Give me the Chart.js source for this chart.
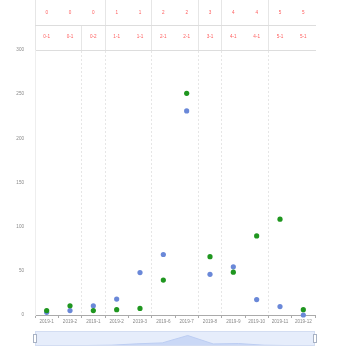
<!DOCTYPE html>
<html><head><meta charset="utf-8">
<script src="https://cdn.jsdelivr.net/npm/chart.js@4.4.0/dist/chart.umd.min.js"></script>
<style>
html,body{margin:0;padding:0;background:#fff}
#wrap{position:relative;width:350px;height:350px;overflow:hidden}
#main{position:absolute;left:0;top:0}
#zoom{position:absolute;left:0;top:326px}
</style>
</head><body>
<div id="wrap"><canvas id="main" width="350" height="350"></canvas><canvas id="zoom" width="350" height="24"></canvas></div>
<script>
const categories = ['2019-1','2019-2','2019-1','2019-2','2019-3','2019-6','2019-7','2019-8','2019-9','2019-10','2019-11','2019-12'];
const groupTop = ['0','0','0','1','1','2','2','3','4','4','5','5'];
const groupSub = ['0-1','0-1','0-2','1-1','1-1','2-1','2-1','3-1','4-1','4-1','5-1','5-1'];
const blueValues = [3, 5, 10.5, 18, 48, 68.5, 231, 46, 54.5, 17.5, 9.5, 0];
const greenValues = [5, 10.5, 5, 6, 7.5, 39.5, 251, 66, 48.5, 89.5, 108.5, 6];
const yTicks = [0, 50, 100, 150, 200, 250, 300];

function boundaries(groups){
  const b = [0];
  for (let i = 1; i < groups.length; i++) if (groups[i] !== groups[i-1]) b.push(i);
  b.push(groups.length);
  return b;
}
const subB = boundaries(groupSub);
const topB = boundaries(groupTop);
const N = categories.length;

Chart.defaults.font.family = '"Liberation Sans", Arial, sans-serif';
const FS = 4.6;
const T = 'rgba(0,0,0,0)';

new Chart(document.getElementById('main'), {
  type: 'line',
  data: {
    labels: categories,
    datasets: [
      { label: 'B', data: greenValues, showLine: false, pointRadius: 2.6, pointHoverRadius: 2.6,
        pointBackgroundColor: '#1f961f', pointBorderColor: '#1f961f', pointBorderWidth: 0, clip: false },
      { label: 'A', data: blueValues, showLine: false, pointRadius: 2.6, pointHoverRadius: 2.6,
        pointBackgroundColor: '#6a88d8', pointBorderColor: '#6a88d8', pointBorderWidth: 0, clip: false }
    ]
  },
  options: {
    responsive: false, animation: false, devicePixelRatio: 1,
    layout: { padding: { left: 0, right: 35, top: 0, bottom: 22 } },
    plugins: { legend: { display: false }, tooltip: { enabled: false } },
    scales: {
      x: {
        type: 'category', position: 'bottom', offset: true,
        grid: { display: true, offset: true, drawOnChartArea: false, drawTicks: true, tickLength: 3, color: '#aaaaaa' },
        border: { display: true, color: '#aaaaaa', width: 1 },
        ticks: { color: '#888888', font: { size: FS }, padding: 1, autoSkip: false, maxRotation: 0 },
        afterFit: s => { s.height = 13; }
      },
      x2: {
        type: 'category', position: 'top', labels: groupSub, offset: true, weight: 1,
        grid: {
          offset: true, drawOnChartArea: true, drawTicks: true, tickLength: 25,
          color: c => (c.index === N ? '#eeeeee' : (subB.includes(c.index) && c.index > 0 ? '#e6e6e6' : T)),
          lineWidth: c => (c.index === N ? 2 : 1),
          tickColor: c => (subB.includes(c.index) ? '#e6e6e6' : T),
          tickWidth: 1
        },
        border: { display: true, color: '#dddddd', width: 1, dash: c => (c.index === N ? [] : [2, 2]) },
        ticks: { color: '#ff5c5c', font: { size: FS }, padding: -14.4, autoSkip: false, maxRotation: 0 },
        afterFit: s => { s.height = 25; }
      },
      x3: {
        type: 'category', position: 'top', labels: groupTop, offset: true, weight: 2,
        grid: {
          offset: true, drawOnChartArea: false, drawTicks: true, tickLength: 25,
          color: c => (topB.includes(c.index) ? '#e6e6e6' : T),
          tickColor: c => (topB.includes(c.index) ? '#e6e6e6' : T),
          tickWidth: 1
        },
        border: { display: true, color: '#dddddd', width: 1 },
        ticks: { color: '#ff5c5c', font: { size: FS }, padding: -15, autoSkip: false, maxRotation: 0 },
        afterFit: s => { s.height = 25; }
      },
      y: {
        min: yTicks[0], max: yTicks[yTicks.length - 1],
        afterBuildTicks: s => { s.ticks = yTicks.map(v => ({ value: v })); },
        grid: { display: false },
        border: { display: true, color: '#eeeeee', width: 1 },
        ticks: { color: '#888888', font: { size: FS }, padding: 3 },
        afterFit: s => { s.width = 35; }
      }
    }
  }
});

const sliderDeco = {
  id: 'sliderDeco',
  beforeDatasetsDraw(chart) {
    const { ctx, chartArea: a } = chart;
    ctx.save();
    ctx.fillStyle = '#e6edfb';
    ctx.fillRect(a.left, a.top, a.right - a.left, a.bottom - a.top);
    ctx.restore();
  },
  afterDatasetsDraw(chart) {
    const { ctx, chartArea: a } = chart;
    ctx.save();
    ctx.strokeStyle = '#d3ddf2';
    ctx.lineWidth = 1;
    ctx.strokeRect(a.left + 0.5, a.top + 0.5, a.right - a.left - 1, a.bottom - a.top - 1);
    const hy = (a.top + a.bottom) / 2;
    [a.left, a.right].forEach(x => {
      ctx.fillStyle = '#ffffff';
      ctx.strokeStyle = '#a8b2c4';
      ctx.fillRect(x - 1.5, hy - 4, 3, 8);
      ctx.strokeRect(x - 1.5, hy - 4, 3, 8);
    });
    ctx.restore();
  }
};

new Chart(document.getElementById('zoom'), {
  type: 'line',
  data: {
    labels: categories,
    datasets: [{ data: blueValues, fill: 'origin', backgroundColor: '#cad8f6', borderColor: '#bccdf2',
                 borderWidth: 1, pointRadius: 0, tension: 0 }]
  },
  options: {
    responsive: false, animation: false, devicePixelRatio: 1,
    layout: { padding: { left: 35, right: 35, top: 5, bottom: 4 } },
    plugins: { legend: { display: false }, tooltip: { enabled: false } },
    scales: {
      x: { display: false, offset: false },
      y: { display: false, min: 0, max: 330 }
    }
  },
  plugins: [sliderDeco]
});
</script>
</body></html>
